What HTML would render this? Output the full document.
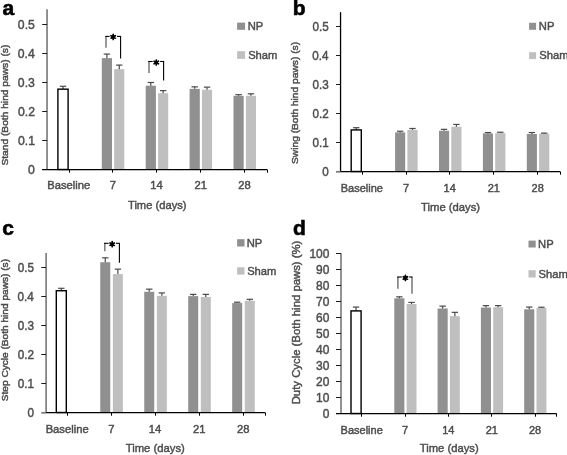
<!DOCTYPE html>
<html><head><meta charset="utf-8"><style>
html,body{margin:0;padding:0;background:#fff;}
svg{display:block;filter:grayscale(100%);}
text{font-family:"Liberation Sans",sans-serif;}
</style></head><body>
<svg width="567" height="455" viewBox="0 0 567 455">
<rect width="567" height="455" fill="#fff"/>
<line x1="47.05" y1="9.30" x2="47.05" y2="169.50" stroke="#7f7f7f" stroke-width="1.7"/>
<line x1="42.20" y1="169.50" x2="47.05" y2="169.50" stroke="#1a1a1a" stroke-width="1.0"/>
<line x1="42.20" y1="140.50" x2="47.05" y2="140.50" stroke="#1a1a1a" stroke-width="1.0"/>
<line x1="42.20" y1="111.50" x2="47.05" y2="111.50" stroke="#1a1a1a" stroke-width="1.0"/>
<line x1="42.20" y1="82.50" x2="47.05" y2="82.50" stroke="#1a1a1a" stroke-width="1.0"/>
<line x1="42.20" y1="53.50" x2="47.05" y2="53.50" stroke="#1a1a1a" stroke-width="1.0"/>
<line x1="42.20" y1="24.50" x2="47.05" y2="24.50" stroke="#1a1a1a" stroke-width="1.0"/>
<line x1="63.00" y1="86.26" x2="63.00" y2="89.16" stroke="#4a4a4a" stroke-width="1.2"/>
<line x1="59.80" y1="86.26" x2="66.20" y2="86.26" stroke="#4a4a4a" stroke-width="1.2"/>
<rect x="57.90" y="89.16" width="10.20" height="80.34" fill="#fff" stroke="#000" stroke-width="1.4"/>
<rect x="101.80" y="58.13" width="10.20" height="111.37" fill="#909090"/>
<line x1="106.90" y1="54.07" x2="106.90" y2="58.13" stroke="#4a4a4a" stroke-width="1.2"/>
<line x1="103.70" y1="54.07" x2="110.10" y2="54.07" stroke="#4a4a4a" stroke-width="1.2"/>
<rect x="114.20" y="69.15" width="10.10" height="100.35" fill="#bfbfbf"/>
<line x1="119.25" y1="65.09" x2="119.25" y2="69.15" stroke="#4a4a4a" stroke-width="1.2"/>
<line x1="116.05" y1="65.09" x2="122.45" y2="65.09" stroke="#4a4a4a" stroke-width="1.2"/>
<rect x="145.70" y="85.68" width="10.20" height="83.82" fill="#909090"/>
<line x1="150.80" y1="82.49" x2="150.80" y2="85.68" stroke="#4a4a4a" stroke-width="1.2"/>
<line x1="147.60" y1="82.49" x2="154.00" y2="82.49" stroke="#4a4a4a" stroke-width="1.2"/>
<rect x="158.10" y="93.22" width="10.10" height="76.28" fill="#bfbfbf"/>
<line x1="163.15" y1="90.61" x2="163.15" y2="93.22" stroke="#4a4a4a" stroke-width="1.2"/>
<line x1="159.95" y1="90.61" x2="166.35" y2="90.61" stroke="#4a4a4a" stroke-width="1.2"/>
<rect x="189.60" y="88.87" width="10.20" height="80.63" fill="#909090"/>
<line x1="194.70" y1="86.84" x2="194.70" y2="88.87" stroke="#4a4a4a" stroke-width="1.2"/>
<line x1="191.50" y1="86.84" x2="197.90" y2="86.84" stroke="#4a4a4a" stroke-width="1.2"/>
<rect x="202.00" y="89.74" width="10.10" height="79.76" fill="#bfbfbf"/>
<line x1="207.05" y1="87.13" x2="207.05" y2="89.74" stroke="#4a4a4a" stroke-width="1.2"/>
<line x1="203.85" y1="87.13" x2="210.25" y2="87.13" stroke="#4a4a4a" stroke-width="1.2"/>
<rect x="233.50" y="95.83" width="10.20" height="73.67" fill="#909090"/>
<line x1="238.60" y1="94.67" x2="238.60" y2="95.83" stroke="#4a4a4a" stroke-width="1.2"/>
<line x1="235.40" y1="94.67" x2="241.80" y2="94.67" stroke="#4a4a4a" stroke-width="1.2"/>
<rect x="245.90" y="95.83" width="10.10" height="73.67" fill="#bfbfbf"/>
<line x1="250.95" y1="93.80" x2="250.95" y2="95.83" stroke="#4a4a4a" stroke-width="1.2"/>
<line x1="247.75" y1="93.80" x2="254.15" y2="93.80" stroke="#4a4a4a" stroke-width="1.2"/>
<line x1="42.20" y1="169.50" x2="267.00" y2="169.50" stroke="#000" stroke-width="1.25"/>
<line x1="69.50" y1="169.50" x2="69.50" y2="172.70" stroke="#000" stroke-width="1.0"/>
<line x1="112.50" y1="169.50" x2="112.50" y2="172.70" stroke="#000" stroke-width="1.0"/>
<line x1="156.50" y1="169.50" x2="156.50" y2="172.70" stroke="#000" stroke-width="1.0"/>
<line x1="200.50" y1="169.50" x2="200.50" y2="172.70" stroke="#000" stroke-width="1.0"/>
<line x1="244.50" y1="169.50" x2="244.50" y2="172.70" stroke="#000" stroke-width="1.0"/>
<line x1="267.50" y1="169.50" x2="267.50" y2="172.70" stroke="#000" stroke-width="1.0"/>
<rect x="237.10" y="22.60" width="8.00" height="7.20" fill="#909090"/>
<rect x="237.10" y="51.20" width="8.00" height="7.70" fill="#bfbfbf"/>
<line x1="106.00" y1="36.40" x2="106.00" y2="47.70" stroke="#7f7f7f" stroke-width="1.6"/>
<line x1="120.60" y1="36.40" x2="120.60" y2="58.50" stroke="#000" stroke-width="1.1"/>
<line x1="105.20" y1="36.40" x2="109.60" y2="36.40" stroke="#000" stroke-width="1.1"/>
<line x1="117.00" y1="36.40" x2="121.10" y2="36.40" stroke="#000" stroke-width="1.1"/>
<path d="M113.20,34.40L113.20,39.40M111.03,35.65L115.37,38.15M115.37,35.65L111.03,38.15" stroke="#000" stroke-width="1.7" stroke-linecap="round"/>
<circle cx="113.20" cy="36.90" r="1.6" fill="#000"/>
<line x1="149.00" y1="61.50" x2="149.00" y2="73.00" stroke="#7f7f7f" stroke-width="1.6"/>
<line x1="163.60" y1="61.50" x2="163.60" y2="80.60" stroke="#000" stroke-width="1.1"/>
<line x1="148.20" y1="61.50" x2="152.70" y2="61.50" stroke="#000" stroke-width="1.1"/>
<line x1="160.10" y1="61.50" x2="164.10" y2="61.50" stroke="#000" stroke-width="1.1"/>
<path d="M156.30,60.00L156.30,65.00M154.13,61.25L158.47,63.75M158.47,61.25L154.13,63.75" stroke="#000" stroke-width="1.7" stroke-linecap="round"/>
<circle cx="156.30" cy="62.50" r="1.6" fill="#000"/>
<line x1="340.55" y1="12.20" x2="340.55" y2="171.50" stroke="#000" stroke-width="1.3"/>
<line x1="336.00" y1="171.80" x2="340.55" y2="171.80" stroke="#7f7f7f" stroke-width="1.8"/>
<line x1="336.00" y1="142.50" x2="340.55" y2="142.50" stroke="#1a1a1a" stroke-width="1.0"/>
<line x1="336.00" y1="113.50" x2="340.55" y2="113.50" stroke="#1a1a1a" stroke-width="1.0"/>
<line x1="336.00" y1="84.50" x2="340.55" y2="84.50" stroke="#1a1a1a" stroke-width="1.0"/>
<line x1="336.00" y1="55.50" x2="340.55" y2="55.50" stroke="#1a1a1a" stroke-width="1.0"/>
<line x1="336.00" y1="26.50" x2="340.55" y2="26.50" stroke="#1a1a1a" stroke-width="1.0"/>
<line x1="356.25" y1="127.70" x2="356.25" y2="129.93" stroke="#4a4a4a" stroke-width="1.2"/>
<line x1="353.05" y1="127.70" x2="359.45" y2="127.70" stroke="#4a4a4a" stroke-width="1.2"/>
<rect x="351.20" y="129.93" width="10.10" height="41.57" fill="#fff" stroke="#000" stroke-width="1.4"/>
<rect x="395.10" y="132.40" width="10.10" height="39.10" fill="#909090"/>
<line x1="400.15" y1="131.24" x2="400.15" y2="132.40" stroke="#4a4a4a" stroke-width="1.2"/>
<line x1="396.95" y1="131.24" x2="403.35" y2="131.24" stroke="#4a4a4a" stroke-width="1.2"/>
<rect x="407.40" y="129.93" width="10.20" height="41.57" fill="#bfbfbf"/>
<line x1="412.50" y1="128.48" x2="412.50" y2="129.93" stroke="#4a4a4a" stroke-width="1.2"/>
<line x1="409.30" y1="128.48" x2="415.70" y2="128.48" stroke="#4a4a4a" stroke-width="1.2"/>
<rect x="439.00" y="130.80" width="10.10" height="40.70" fill="#909090"/>
<line x1="444.05" y1="129.35" x2="444.05" y2="130.80" stroke="#4a4a4a" stroke-width="1.2"/>
<line x1="440.85" y1="129.35" x2="447.25" y2="129.35" stroke="#4a4a4a" stroke-width="1.2"/>
<rect x="451.30" y="126.74" width="10.20" height="44.76" fill="#bfbfbf"/>
<line x1="456.40" y1="124.42" x2="456.40" y2="126.74" stroke="#4a4a4a" stroke-width="1.2"/>
<line x1="453.20" y1="124.42" x2="459.60" y2="124.42" stroke="#4a4a4a" stroke-width="1.2"/>
<rect x="482.90" y="133.41" width="10.10" height="38.09" fill="#909090"/>
<line x1="487.95" y1="132.54" x2="487.95" y2="133.41" stroke="#4a4a4a" stroke-width="1.2"/>
<line x1="484.75" y1="132.54" x2="491.15" y2="132.54" stroke="#4a4a4a" stroke-width="1.2"/>
<rect x="495.20" y="133.12" width="10.20" height="38.38" fill="#bfbfbf"/>
<line x1="500.30" y1="132.25" x2="500.30" y2="133.12" stroke="#4a4a4a" stroke-width="1.2"/>
<line x1="497.10" y1="132.25" x2="503.50" y2="132.25" stroke="#4a4a4a" stroke-width="1.2"/>
<rect x="526.80" y="133.99" width="10.10" height="37.51" fill="#909090"/>
<line x1="531.85" y1="132.54" x2="531.85" y2="133.99" stroke="#4a4a4a" stroke-width="1.2"/>
<line x1="528.65" y1="132.54" x2="535.05" y2="132.54" stroke="#4a4a4a" stroke-width="1.2"/>
<rect x="539.10" y="133.70" width="10.20" height="37.80" fill="#bfbfbf"/>
<line x1="544.20" y1="133.12" x2="544.20" y2="133.70" stroke="#4a4a4a" stroke-width="1.2"/>
<line x1="541.00" y1="133.12" x2="547.40" y2="133.12" stroke="#4a4a4a" stroke-width="1.2"/>
<line x1="340.55" y1="171.50" x2="560.10" y2="171.50" stroke="#000" stroke-width="1.25"/>
<line x1="362.50" y1="171.50" x2="362.50" y2="174.70" stroke="#000" stroke-width="1.0"/>
<line x1="406.50" y1="171.50" x2="406.50" y2="174.70" stroke="#000" stroke-width="1.0"/>
<line x1="449.50" y1="171.50" x2="449.50" y2="174.70" stroke="#000" stroke-width="1.0"/>
<line x1="493.50" y1="171.50" x2="493.50" y2="174.70" stroke="#000" stroke-width="1.0"/>
<line x1="537.50" y1="171.50" x2="537.50" y2="174.70" stroke="#000" stroke-width="1.0"/>
<line x1="560.50" y1="171.50" x2="560.50" y2="174.70" stroke="#000" stroke-width="1.0"/>
<rect x="529.10" y="22.80" width="7.00" height="7.00" fill="#909090"/>
<rect x="529.10" y="52.20" width="7.00" height="6.90" fill="#bfbfbf"/>
<line x1="46.10" y1="253.10" x2="46.10" y2="412.50" stroke="#7f7f7f" stroke-width="1.7"/>
<line x1="41.30" y1="412.80" x2="46.10" y2="412.80" stroke="#7f7f7f" stroke-width="1.8"/>
<line x1="41.30" y1="383.50" x2="46.10" y2="383.50" stroke="#1a1a1a" stroke-width="1.0"/>
<line x1="41.30" y1="354.50" x2="46.10" y2="354.50" stroke="#1a1a1a" stroke-width="1.0"/>
<line x1="41.30" y1="325.50" x2="46.10" y2="325.50" stroke="#1a1a1a" stroke-width="1.0"/>
<line x1="41.30" y1="296.50" x2="46.10" y2="296.50" stroke="#1a1a1a" stroke-width="1.0"/>
<line x1="41.30" y1="267.50" x2="46.10" y2="267.50" stroke="#1a1a1a" stroke-width="1.0"/>
<line x1="61.30" y1="288.29" x2="61.30" y2="290.73" stroke="#4a4a4a" stroke-width="1.2"/>
<line x1="58.10" y1="288.29" x2="64.50" y2="288.29" stroke="#4a4a4a" stroke-width="1.2"/>
<rect x="56.30" y="290.73" width="10.00" height="121.77" fill="#fff" stroke="#000" stroke-width="1.4"/>
<rect x="100.27" y="262.19" width="10.00" height="150.31" fill="#909090"/>
<line x1="105.27" y1="257.84" x2="105.27" y2="262.19" stroke="#4a4a4a" stroke-width="1.2"/>
<line x1="102.07" y1="257.84" x2="108.47" y2="257.84" stroke="#4a4a4a" stroke-width="1.2"/>
<rect x="112.87" y="274.08" width="10.00" height="138.42" fill="#bfbfbf"/>
<line x1="117.87" y1="269.15" x2="117.87" y2="274.08" stroke="#4a4a4a" stroke-width="1.2"/>
<line x1="114.67" y1="269.15" x2="121.07" y2="269.15" stroke="#4a4a4a" stroke-width="1.2"/>
<rect x="144.24" y="291.77" width="10.00" height="120.73" fill="#909090"/>
<line x1="149.24" y1="289.16" x2="149.24" y2="291.77" stroke="#4a4a4a" stroke-width="1.2"/>
<line x1="146.04" y1="289.16" x2="152.44" y2="289.16" stroke="#4a4a4a" stroke-width="1.2"/>
<rect x="156.84" y="295.83" width="10.00" height="116.67" fill="#bfbfbf"/>
<line x1="161.84" y1="292.93" x2="161.84" y2="295.83" stroke="#4a4a4a" stroke-width="1.2"/>
<line x1="158.64" y1="292.93" x2="165.04" y2="292.93" stroke="#4a4a4a" stroke-width="1.2"/>
<rect x="188.21" y="296.12" width="10.00" height="116.38" fill="#909090"/>
<line x1="193.21" y1="294.38" x2="193.21" y2="296.12" stroke="#4a4a4a" stroke-width="1.2"/>
<line x1="190.01" y1="294.38" x2="196.41" y2="294.38" stroke="#4a4a4a" stroke-width="1.2"/>
<rect x="200.81" y="296.99" width="10.00" height="115.51" fill="#bfbfbf"/>
<line x1="205.81" y1="294.38" x2="205.81" y2="296.99" stroke="#4a4a4a" stroke-width="1.2"/>
<line x1="202.61" y1="294.38" x2="209.01" y2="294.38" stroke="#4a4a4a" stroke-width="1.2"/>
<rect x="232.18" y="303.08" width="10.00" height="109.42" fill="#909090"/>
<line x1="237.18" y1="302.21" x2="237.18" y2="303.08" stroke="#4a4a4a" stroke-width="1.2"/>
<line x1="233.98" y1="302.21" x2="240.38" y2="302.21" stroke="#4a4a4a" stroke-width="1.2"/>
<rect x="244.78" y="300.76" width="10.00" height="111.74" fill="#bfbfbf"/>
<line x1="249.78" y1="299.31" x2="249.78" y2="300.76" stroke="#4a4a4a" stroke-width="1.2"/>
<line x1="246.58" y1="299.31" x2="252.98" y2="299.31" stroke="#4a4a4a" stroke-width="1.2"/>
<line x1="46.10" y1="412.50" x2="265.00" y2="412.50" stroke="#000" stroke-width="1.25"/>
<line x1="67.50" y1="412.50" x2="67.50" y2="415.70" stroke="#000" stroke-width="1.0"/>
<line x1="111.50" y1="412.50" x2="111.50" y2="415.70" stroke="#000" stroke-width="1.0"/>
<line x1="155.50" y1="412.50" x2="155.50" y2="415.70" stroke="#000" stroke-width="1.0"/>
<line x1="199.50" y1="412.50" x2="199.50" y2="415.70" stroke="#000" stroke-width="1.0"/>
<line x1="243.50" y1="412.50" x2="243.50" y2="415.70" stroke="#000" stroke-width="1.0"/>
<line x1="265.50" y1="412.50" x2="265.50" y2="415.70" stroke="#000" stroke-width="1.0"/>
<rect x="237.10" y="239.20" width="7.40" height="7.30" fill="#909090"/>
<rect x="237.10" y="267.30" width="7.40" height="7.30" fill="#bfbfbf"/>
<line x1="104.80" y1="243.30" x2="104.80" y2="251.30" stroke="#7f7f7f" stroke-width="1.6"/>
<line x1="119.40" y1="243.30" x2="119.40" y2="262.80" stroke="#000" stroke-width="1.1"/>
<line x1="104.00" y1="243.30" x2="108.60" y2="243.30" stroke="#000" stroke-width="1.1"/>
<line x1="116.00" y1="243.30" x2="119.90" y2="243.30" stroke="#000" stroke-width="1.1"/>
<path d="M112.20,241.70L112.20,246.70M110.03,242.95L114.37,245.45M114.37,242.95L110.03,245.45" stroke="#000" stroke-width="1.7" stroke-linecap="round"/>
<circle cx="112.20" cy="244.20" r="1.6" fill="#000"/>
<line x1="341.00" y1="253.30" x2="341.00" y2="413.50" stroke="#7f7f7f" stroke-width="1.7"/>
<line x1="336.00" y1="413.50" x2="341.00" y2="413.50" stroke="#1a1a1a" stroke-width="1.0"/>
<line x1="336.00" y1="397.50" x2="341.00" y2="397.50" stroke="#1a1a1a" stroke-width="1.0"/>
<line x1="336.00" y1="381.50" x2="341.00" y2="381.50" stroke="#1a1a1a" stroke-width="1.0"/>
<line x1="336.00" y1="365.50" x2="341.00" y2="365.50" stroke="#1a1a1a" stroke-width="1.0"/>
<line x1="336.00" y1="349.50" x2="341.00" y2="349.50" stroke="#1a1a1a" stroke-width="1.0"/>
<line x1="336.00" y1="333.50" x2="341.00" y2="333.50" stroke="#1a1a1a" stroke-width="1.0"/>
<line x1="336.00" y1="317.50" x2="341.00" y2="317.50" stroke="#1a1a1a" stroke-width="1.0"/>
<line x1="336.00" y1="301.50" x2="341.00" y2="301.50" stroke="#1a1a1a" stroke-width="1.0"/>
<line x1="336.00" y1="285.50" x2="341.00" y2="285.50" stroke="#1a1a1a" stroke-width="1.0"/>
<line x1="336.00" y1="269.50" x2="341.00" y2="269.50" stroke="#1a1a1a" stroke-width="1.0"/>
<line x1="336.00" y1="253.50" x2="341.00" y2="253.50" stroke="#1a1a1a" stroke-width="1.0"/>
<line x1="356.05" y1="307.07" x2="356.05" y2="310.90" stroke="#4a4a4a" stroke-width="1.2"/>
<line x1="352.85" y1="307.07" x2="359.25" y2="307.07" stroke="#4a4a4a" stroke-width="1.2"/>
<rect x="351.00" y="310.90" width="10.10" height="102.60" fill="#fff" stroke="#000" stroke-width="1.4"/>
<rect x="394.30" y="298.27" width="10.10" height="115.23" fill="#909090"/>
<line x1="399.35" y1="296.83" x2="399.35" y2="298.27" stroke="#4a4a4a" stroke-width="1.2"/>
<line x1="396.15" y1="296.83" x2="402.55" y2="296.83" stroke="#4a4a4a" stroke-width="1.2"/>
<rect x="406.60" y="304.03" width="9.90" height="109.47" fill="#bfbfbf"/>
<line x1="411.55" y1="302.43" x2="411.55" y2="304.03" stroke="#4a4a4a" stroke-width="1.2"/>
<line x1="408.35" y1="302.43" x2="414.75" y2="302.43" stroke="#4a4a4a" stroke-width="1.2"/>
<rect x="437.60" y="308.51" width="10.10" height="104.99" fill="#909090"/>
<line x1="442.65" y1="306.11" x2="442.65" y2="308.51" stroke="#4a4a4a" stroke-width="1.2"/>
<line x1="439.45" y1="306.11" x2="445.85" y2="306.11" stroke="#4a4a4a" stroke-width="1.2"/>
<rect x="449.90" y="316.18" width="9.90" height="97.32" fill="#bfbfbf"/>
<line x1="454.85" y1="312.34" x2="454.85" y2="316.18" stroke="#4a4a4a" stroke-width="1.2"/>
<line x1="451.65" y1="312.34" x2="458.05" y2="312.34" stroke="#4a4a4a" stroke-width="1.2"/>
<rect x="480.90" y="307.55" width="10.10" height="105.95" fill="#909090"/>
<line x1="485.95" y1="305.63" x2="485.95" y2="307.55" stroke="#4a4a4a" stroke-width="1.2"/>
<line x1="482.75" y1="305.63" x2="489.15" y2="305.63" stroke="#4a4a4a" stroke-width="1.2"/>
<rect x="493.20" y="307.23" width="9.90" height="106.27" fill="#bfbfbf"/>
<line x1="498.15" y1="305.63" x2="498.15" y2="307.23" stroke="#4a4a4a" stroke-width="1.2"/>
<line x1="494.95" y1="305.63" x2="501.35" y2="305.63" stroke="#4a4a4a" stroke-width="1.2"/>
<rect x="524.20" y="309.31" width="10.10" height="104.19" fill="#909090"/>
<line x1="529.25" y1="307.07" x2="529.25" y2="309.31" stroke="#4a4a4a" stroke-width="1.2"/>
<line x1="526.05" y1="307.07" x2="532.45" y2="307.07" stroke="#4a4a4a" stroke-width="1.2"/>
<rect x="536.50" y="308.03" width="9.90" height="105.47" fill="#bfbfbf"/>
<line x1="541.45" y1="307.23" x2="541.45" y2="308.03" stroke="#4a4a4a" stroke-width="1.2"/>
<line x1="538.25" y1="307.23" x2="544.65" y2="307.23" stroke="#4a4a4a" stroke-width="1.2"/>
<line x1="336.00" y1="413.50" x2="556.60" y2="413.50" stroke="#000" stroke-width="1.25"/>
<line x1="361.50" y1="413.50" x2="361.50" y2="416.70" stroke="#000" stroke-width="1.0"/>
<line x1="405.50" y1="413.50" x2="405.50" y2="416.70" stroke="#000" stroke-width="1.0"/>
<line x1="448.50" y1="413.50" x2="448.50" y2="416.70" stroke="#000" stroke-width="1.0"/>
<line x1="491.50" y1="413.50" x2="491.50" y2="416.70" stroke="#000" stroke-width="1.0"/>
<line x1="535.50" y1="413.50" x2="535.50" y2="416.70" stroke="#000" stroke-width="1.0"/>
<line x1="556.50" y1="413.50" x2="556.50" y2="416.70" stroke="#000" stroke-width="1.0"/>
<rect x="528.50" y="240.60" width="7.20" height="6.90" fill="#909090"/>
<rect x="528.50" y="270.20" width="7.20" height="7.30" fill="#bfbfbf"/>
<line x1="397.90" y1="277.00" x2="397.90" y2="288.80" stroke="#7f7f7f" stroke-width="1.6"/>
<line x1="412.00" y1="277.00" x2="412.00" y2="293.70" stroke="#7f7f7f" stroke-width="1.6"/>
<line x1="397.10" y1="277.00" x2="401.80" y2="277.00" stroke="#000" stroke-width="1.1"/>
<line x1="409.20" y1="277.00" x2="412.50" y2="277.00" stroke="#000" stroke-width="1.1"/>
<path d="M405.40,275.40L405.40,280.40M403.23,276.65L407.57,279.15M407.57,276.65L403.23,279.15" stroke="#000" stroke-width="1.7" stroke-linecap="round"/>
<circle cx="405.40" cy="277.90" r="1.6" fill="#000"/>
<text transform="translate(28.05,174.08) scale(0.9400,1)" font-size="13.00" font-weight="normal" fill="#4d4d4d" stroke="#4d4d4d" stroke-width="0.45">0</text>
<text transform="translate(17.98,145.08) scale(0.9400,1)" font-size="13.00" font-weight="normal" fill="#4d4d4d" stroke="#4d4d4d" stroke-width="0.45">0.1</text>
<text transform="translate(17.98,116.08) scale(0.9400,1)" font-size="13.00" font-weight="normal" fill="#4d4d4d" stroke="#4d4d4d" stroke-width="0.45">0.2</text>
<text transform="translate(17.85,87.08) scale(0.9400,1)" font-size="13.00" font-weight="normal" fill="#4d4d4d" stroke="#4d4d4d" stroke-width="0.45">0.3</text>
<text transform="translate(17.73,58.08) scale(0.9400,1)" font-size="13.00" font-weight="normal" fill="#4d4d4d" stroke="#4d4d4d" stroke-width="0.45">0.4</text>
<text transform="translate(17.85,29.08) scale(0.9400,1)" font-size="13.00" font-weight="normal" fill="#4d4d4d" stroke="#4d4d4d" stroke-width="0.45">0.5</text>
<text transform="translate(47.23,189.20) scale(1.0200,1)" font-size="11.00" font-weight="normal" fill="#4d4d4d" stroke="#4d4d4d" stroke-width="0.45">Baseline</text>
<text transform="translate(109.76,189.20) scale(1.0200,1)" font-size="11.00" font-weight="normal" fill="#4d4d4d" stroke="#4d4d4d" stroke-width="0.45">7</text>
<text transform="translate(150.31,189.20) scale(1.0200,1)" font-size="11.00" font-weight="normal" fill="#4d4d4d" stroke="#4d4d4d" stroke-width="0.45">14</text>
<text transform="translate(194.44,189.20) scale(1.0200,1)" font-size="11.00" font-weight="normal" fill="#4d4d4d" stroke="#4d4d4d" stroke-width="0.45">21</text>
<text transform="translate(238.28,189.20) scale(1.0200,1)" font-size="11.00" font-weight="normal" fill="#4d4d4d" stroke="#4d4d4d" stroke-width="0.45">28</text>
<text transform="translate(127.98,209.10) scale(0.9478,1)" font-size="11.80" font-weight="normal" fill="#4d4d4d" stroke="#4d4d4d" stroke-width="0.45">Time (days)</text>
<text transform="translate(7.80,165.61) rotate(-90) scale(1.0660,1)" font-size="9.60" font-weight="normal" fill="#4d4d4d" stroke="#4d4d4d" stroke-width="0.45">Stand (Both hind paws) (s)</text>
<text transform="translate(247.70,29.80) scale(1.0000,1)" font-size="11.20" font-weight="normal" fill="#4d4d4d" stroke="#4d4d4d" stroke-width="0.45">NP</text>
<text transform="translate(248.15,58.60) scale(1.0000,1)" font-size="11.20" font-weight="normal" fill="#4d4d4d" stroke="#4d4d4d" stroke-width="0.45">Sham</text>
<text transform="translate(2.58,14.80) scale(1.0000,1)" font-size="21.00" font-weight="bold" fill="#000" stroke="#000" stroke-width="0.6">a</text>
<text transform="translate(322.14,176.08) scale(0.9400,1)" font-size="12.40" font-weight="normal" fill="#4d4d4d" stroke="#4d4d4d" stroke-width="0.45">0</text>
<text transform="translate(312.53,147.08) scale(0.9400,1)" font-size="12.40" font-weight="normal" fill="#4d4d4d" stroke="#4d4d4d" stroke-width="0.45">0.1</text>
<text transform="translate(312.53,118.08) scale(0.9400,1)" font-size="12.40" font-weight="normal" fill="#4d4d4d" stroke="#4d4d4d" stroke-width="0.45">0.2</text>
<text transform="translate(312.42,89.08) scale(0.9400,1)" font-size="12.40" font-weight="normal" fill="#4d4d4d" stroke="#4d4d4d" stroke-width="0.45">0.3</text>
<text transform="translate(312.30,60.08) scale(0.9400,1)" font-size="12.40" font-weight="normal" fill="#4d4d4d" stroke="#4d4d4d" stroke-width="0.45">0.4</text>
<text transform="translate(312.42,31.08) scale(0.9400,1)" font-size="12.40" font-weight="normal" fill="#4d4d4d" stroke="#4d4d4d" stroke-width="0.45">0.5</text>
<text transform="translate(340.76,191.60) scale(1.0000,1)" font-size="11.00" font-weight="normal" fill="#4d4d4d" stroke="#4d4d4d" stroke-width="0.45">Baseline</text>
<text transform="translate(402.92,191.60) scale(1.0000,1)" font-size="11.00" font-weight="normal" fill="#4d4d4d" stroke="#4d4d4d" stroke-width="0.45">7</text>
<text transform="translate(443.54,191.60) scale(1.0000,1)" font-size="11.00" font-weight="normal" fill="#4d4d4d" stroke="#4d4d4d" stroke-width="0.45">14</text>
<text transform="translate(487.66,191.60) scale(1.0000,1)" font-size="11.00" font-weight="normal" fill="#4d4d4d" stroke="#4d4d4d" stroke-width="0.45">21</text>
<text transform="translate(531.51,191.60) scale(1.0000,1)" font-size="11.00" font-weight="normal" fill="#4d4d4d" stroke="#4d4d4d" stroke-width="0.45">28</text>
<text transform="translate(421.07,210.70) scale(0.9543,1)" font-size="11.80" font-weight="normal" fill="#4d4d4d" stroke="#4d4d4d" stroke-width="0.45">Time (days)</text>
<text transform="translate(298.40,164.01) rotate(-90) scale(1.0657,1)" font-size="9.60" font-weight="normal" fill="#4d4d4d" stroke="#4d4d4d" stroke-width="0.45">Swing (Both hind paws) (s)</text>
<text transform="translate(538.80,29.80) scale(1.0000,1)" font-size="11.20" font-weight="normal" fill="#4d4d4d" stroke="#4d4d4d" stroke-width="0.45">NP</text>
<text transform="translate(539.25,59.00) scale(1.0000,1)" font-size="11.20" font-weight="normal" fill="#4d4d4d" stroke="#4d4d4d" stroke-width="0.45">Sham</text>
<text transform="translate(292.74,15.20) scale(1.0000,1)" font-size="21.00" font-weight="bold" fill="#000" stroke="#000" stroke-width="0.6">b</text>
<text transform="translate(27.41,417.38) scale(0.9440,1)" font-size="12.40" font-weight="normal" fill="#4d4d4d" stroke="#4d4d4d" stroke-width="0.45">0</text>
<text transform="translate(17.77,388.38) scale(0.9440,1)" font-size="12.40" font-weight="normal" fill="#4d4d4d" stroke="#4d4d4d" stroke-width="0.45">0.1</text>
<text transform="translate(17.77,359.38) scale(0.9440,1)" font-size="12.40" font-weight="normal" fill="#4d4d4d" stroke="#4d4d4d" stroke-width="0.45">0.2</text>
<text transform="translate(17.65,330.38) scale(0.9440,1)" font-size="12.40" font-weight="normal" fill="#4d4d4d" stroke="#4d4d4d" stroke-width="0.45">0.3</text>
<text transform="translate(17.53,301.38) scale(0.9440,1)" font-size="12.40" font-weight="normal" fill="#4d4d4d" stroke="#4d4d4d" stroke-width="0.45">0.4</text>
<text transform="translate(17.65,272.38) scale(0.9440,1)" font-size="12.40" font-weight="normal" fill="#4d4d4d" stroke="#4d4d4d" stroke-width="0.45">0.5</text>
<text transform="translate(45.63,433.00) scale(1.0200,1)" font-size="11.00" font-weight="normal" fill="#4d4d4d" stroke="#4d4d4d" stroke-width="0.45">Baseline</text>
<text transform="translate(108.23,433.00) scale(1.0200,1)" font-size="11.00" font-weight="normal" fill="#4d4d4d" stroke="#4d4d4d" stroke-width="0.45">7</text>
<text transform="translate(148.85,433.00) scale(1.0200,1)" font-size="11.00" font-weight="normal" fill="#4d4d4d" stroke="#4d4d4d" stroke-width="0.45">14</text>
<text transform="translate(193.05,433.00) scale(1.0200,1)" font-size="11.00" font-weight="normal" fill="#4d4d4d" stroke="#4d4d4d" stroke-width="0.45">21</text>
<text transform="translate(236.96,433.00) scale(1.0200,1)" font-size="11.00" font-weight="normal" fill="#4d4d4d" stroke="#4d4d4d" stroke-width="0.45">28</text>
<text transform="translate(125.67,451.70) scale(0.9576,1)" font-size="11.80" font-weight="normal" fill="#4d4d4d" stroke="#4d4d4d" stroke-width="0.45">Time (days)</text>
<text transform="translate(8.10,401.21) rotate(-90) scale(1.0608,1)" font-size="9.55" font-weight="normal" fill="#4d4d4d" stroke="#4d4d4d" stroke-width="0.45">Step Cycle (Both hind paws) (s)</text>
<text transform="translate(246.70,246.80) scale(1.0000,1)" font-size="11.20" font-weight="normal" fill="#4d4d4d" stroke="#4d4d4d" stroke-width="0.45">NP</text>
<text transform="translate(247.15,274.70) scale(1.0000,1)" font-size="11.20" font-weight="normal" fill="#4d4d4d" stroke="#4d4d4d" stroke-width="0.45">Sham</text>
<text transform="translate(2.37,234.80) scale(1.0000,1)" font-size="21.00" font-weight="bold" fill="#000" stroke="#000" stroke-width="0.6">c</text>
<text transform="translate(322.76,418.18) scale(0.9450,1)" font-size="12.70" font-weight="normal" fill="#4d4d4d" stroke="#4d4d4d" stroke-width="0.45">0</text>
<text transform="translate(316.08,402.19) scale(0.9450,1)" font-size="12.70" font-weight="normal" fill="#4d4d4d" stroke="#4d4d4d" stroke-width="0.45">10</text>
<text transform="translate(316.08,386.20) scale(0.9450,1)" font-size="12.70" font-weight="normal" fill="#4d4d4d" stroke="#4d4d4d" stroke-width="0.45">20</text>
<text transform="translate(316.08,370.21) scale(0.9450,1)" font-size="12.70" font-weight="normal" fill="#4d4d4d" stroke="#4d4d4d" stroke-width="0.45">30</text>
<text transform="translate(316.08,354.22) scale(0.9450,1)" font-size="12.70" font-weight="normal" fill="#4d4d4d" stroke="#4d4d4d" stroke-width="0.45">40</text>
<text transform="translate(316.08,338.23) scale(0.9450,1)" font-size="12.70" font-weight="normal" fill="#4d4d4d" stroke="#4d4d4d" stroke-width="0.45">50</text>
<text transform="translate(316.08,322.24) scale(0.9450,1)" font-size="12.70" font-weight="normal" fill="#4d4d4d" stroke="#4d4d4d" stroke-width="0.45">60</text>
<text transform="translate(316.08,306.25) scale(0.9450,1)" font-size="12.70" font-weight="normal" fill="#4d4d4d" stroke="#4d4d4d" stroke-width="0.45">70</text>
<text transform="translate(316.08,290.26) scale(0.9450,1)" font-size="12.70" font-weight="normal" fill="#4d4d4d" stroke="#4d4d4d" stroke-width="0.45">80</text>
<text transform="translate(316.08,274.27) scale(0.9450,1)" font-size="12.70" font-weight="normal" fill="#4d4d4d" stroke="#4d4d4d" stroke-width="0.45">90</text>
<text transform="translate(309.41,258.28) scale(0.9450,1)" font-size="12.70" font-weight="normal" fill="#4d4d4d" stroke="#4d4d4d" stroke-width="0.45">100</text>
<text transform="translate(340.56,434.00) scale(1.0000,1)" font-size="11.00" font-weight="normal" fill="#4d4d4d" stroke="#4d4d4d" stroke-width="0.45">Baseline</text>
<text transform="translate(402.12,434.00) scale(1.0000,1)" font-size="11.00" font-weight="normal" fill="#4d4d4d" stroke="#4d4d4d" stroke-width="0.45">7</text>
<text transform="translate(442.14,434.00) scale(1.0000,1)" font-size="11.00" font-weight="normal" fill="#4d4d4d" stroke="#4d4d4d" stroke-width="0.45">14</text>
<text transform="translate(485.66,434.00) scale(1.0000,1)" font-size="11.00" font-weight="normal" fill="#4d4d4d" stroke="#4d4d4d" stroke-width="0.45">21</text>
<text transform="translate(528.91,434.00) scale(1.0000,1)" font-size="11.00" font-weight="normal" fill="#4d4d4d" stroke="#4d4d4d" stroke-width="0.45">28</text>
<text transform="translate(419.78,452.00) scale(0.9527,1)" font-size="11.80" font-weight="normal" fill="#4d4d4d" stroke="#4d4d4d" stroke-width="0.45">Time (days)</text>
<text transform="translate(299.80,404.31) rotate(-90) scale(1.0689,1)" font-size="10.60" font-weight="normal" fill="#4d4d4d" stroke="#4d4d4d" stroke-width="0.45">Duty Cycle (Both hind paws) (%)</text>
<text transform="translate(538.10,247.80) scale(1.0000,1)" font-size="11.20" font-weight="normal" fill="#4d4d4d" stroke="#4d4d4d" stroke-width="0.45">NP</text>
<text transform="translate(538.55,277.60) scale(1.0000,1)" font-size="11.20" font-weight="normal" fill="#4d4d4d" stroke="#4d4d4d" stroke-width="0.45">Sham</text>
<text transform="translate(293.06,234.80) scale(1.0000,1)" font-size="21.00" font-weight="bold" fill="#000" stroke="#000" stroke-width="0.6">d</text>
</svg>
</body></html>
